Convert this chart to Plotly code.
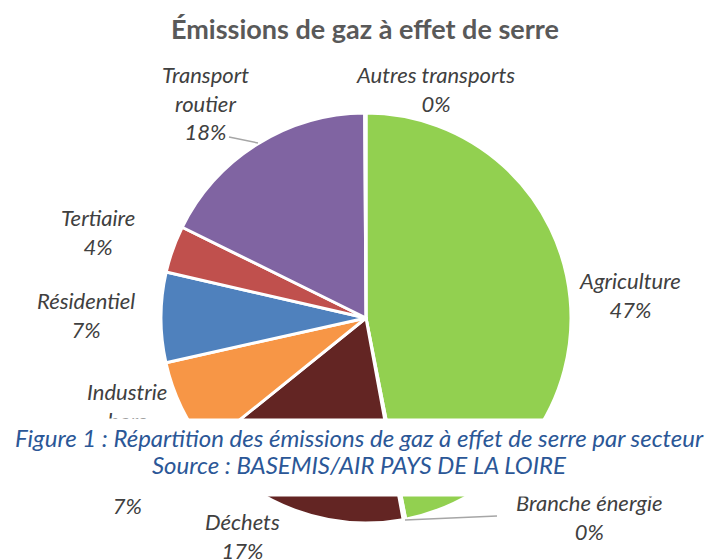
import plotly.graph_objects as go

# Data
sectors = ["Agriculture", "Branche énergie", "Déchets", "Industrie hors branche énergie",
           "Résidentiel", "Tertiaire", "Transport routier", "Autres transports"]
label_text = ["Agriculture", "Branche énergie", "Déchets", "Industrie<br>hors<br>branche<br>énergie",
              "Résidentiel", "Tertiaire", "Transport<br>routier", "Autres transports"]
values = [46.9, 0.2, 17.1, 7.3, 7.1, 3.7, 17.6, 0.1]
colors = ["#92D050", "#7F7F7F", "#632523", "#F79646", "#4F81BD", "#C0504D", "#8064A2", "#4BACC6"]

W, H = 715, 559
OFF = 8  # page body margin
cx, cy, R = 366 - OFF, 318 - OFF, 205

def px(x, y):
    return (x - OFF) / W, 1 - (y - OFF) / H

fig = go.Figure(go.Pie(
    labels=sectors, values=values, sort=False, direction="clockwise", rotation=0,
    marker=dict(colors=colors, line=dict(color="white", width=3)),
    textinfo="none", hoverinfo="label+percent", showlegend=False,
    domain=dict(x=[(cx - R) / W, (cx + R) / W], y=[(H - cy - R) / H, (H - cy + R) / H]),
))

total = sum(values)
pcts = [f"{round(v / total * 100):d}%" for v in values]

# label centres (pixels from top-left of the page) - layout only
label_pos = {
    "Agriculture": (630, 295),
    "Branche énergie": (589, 517),
    "Déchets": (243, 536),
    "Industrie hors branche énergie": (127, 448),
    "Résidentiel": (86, 315),
    "Tertiaire": (98, 232),
    "Transport routier": (205, 103),
    "Autres transports": (435, 89),
}

LF = "Lato"
annotations = []
for name, txt, p in zip(sectors, label_text, pcts):
    x, y = px(*label_pos[name])
    annotations.append(dict(
        x=x, y=y, xref="paper", yref="paper", xanchor="center", yanchor="middle",
        text=f"<i>{txt}<br>{p}</i>", showarrow=False, align="center",
        font=dict(family=LF, size=22, color="#404040"),
    ))

# Title
tx, ty = px(365, 28)
annotations.append(dict(
    x=tx, y=ty, xref="paper", yref="paper", xanchor="center", yanchor="middle",
    text="<b>Émissions de gaz à effet de serre</b>", showarrow=False,
    font=dict(family=LF, size=27, color="#595959"),
))

# White band under the caption (covers labels beneath it)
bx, by = px(357.5 + OFF, 457.5)
annotations.append(dict(
    x=bx, y=by, xref="paper", yref="paper", xanchor="center", yanchor="middle",
    text=" ", showarrow=False, bgcolor="white", width=W + 20, height=75,
))
caption_lines = ["Figure 1 : Répartition des émissions de gaz à effet de serre par secteur",
                 "Source : BASEMIS/AIR PAYS DE LA LOIRE"]
for line, (lx, ly) in zip(caption_lines, [(359, 437), (359, 464)]):
    x, y = px(lx, ly)
    annotations.append(dict(
        x=x, y=y, xref="paper", yref="paper", xanchor="center", yanchor="middle",
        text=f"<i>{line}</i>", showarrow=False,
        font=dict(family=LF, size=24, color="#2B5797"),
    ))

shapes = []
for (x0, y0), (x1, y1) in [((229, 137), (258, 143)), ((405, 520), (497, 516))]:
    a, b = px(x0, y0)
    c, d = px(x1, y1)
    shapes.append(dict(type="line", xref="paper", yref="paper", x0=a, y0=b, x1=c, y1=d,
                       line=dict(color="#A6A6A6", width=1.5), layer="above"))

fig.update_layout(
    width=W, height=H, margin=dict(l=0, r=0, t=0, b=0),
    paper_bgcolor="white", plot_bgcolor="white",
    annotations=annotations, shapes=shapes,
)

fig.write_html("out.html")
